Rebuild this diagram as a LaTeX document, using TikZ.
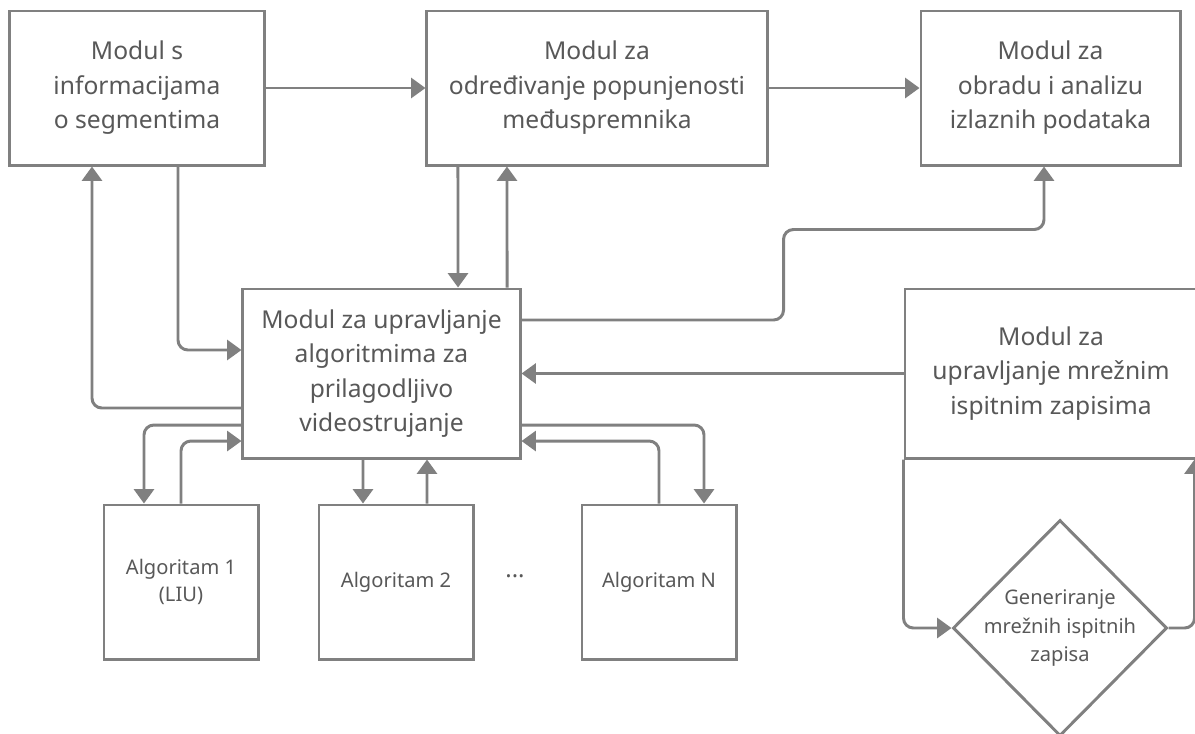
\documentclass[tikz,border=0pt]{standalone}
\usepackage{fontspec}
\setmainfont{Noto Sans}
\definecolor{linegray}{RGB}{128,128,128}
\definecolor{textgray}{RGB}{88,88,88}
\usetikzlibrary{arrows.meta,positioning,shapes.geometric}

\begin{document}
\begin{tikzpicture}[x=0.025cm,y=-0.025cm,
      modbox/.style={rectangle,draw=linegray,line width=2.1pt,minimum width=6.35cm,minimum height=3.85cm,align=center,text=textgray,font=\fontsize{17.5}{24.5}\selectfont},
      algbox/.style={rectangle,draw=linegray,line width=2.1pt,minimum width=3.85cm,minimum height=3.85cm,align=center,text=textgray,font=\fontsize{14.3}{19.5}\selectfont},
      genbox/.style={diamond,draw=linegray,line width=2.1pt,minimum width=5.35cm,minimum height=5.4cm,inner sep=0pt},
      gentxt/.style={align=center,text=textgray,font=\fontsize{14.3}{20}\selectfont},
      conn/.style={draw=linegray,line width=2.1pt,->,rounded corners=7pt},
      >={Triangle[length=0.36cm,width=0.5cm]}
    ]
    \clip (0,0) rectangle (1195,733);
    \fill[white] (0,0) rectangle (1195,733);

    \node[modbox] (seg) at (137,88) {Modul s\\informacijama\\o segmentima};
    \node[modbox,minimum width=8.5cm] (buf) at (597,88) {Modul za\\određivanje popunjenosti\\međuspremnika};
    \node[modbox,minimum width=6.475cm] (out) at (1050.5,88) {Modul za\\obradu i analizu\\izlaznih podataka};

    \node[modbox,minimum width=6.925cm,minimum height=4.225cm] (ctrl) at (381.5,373.5) {Modul za upravljanje\\algoritmima za\\prilagodljivo\\videostrujanje};
    \node[modbox,minimum width=7.3cm,minimum height=4.225cm] (net) at (1051,373.5) {Modul za\\upravljanje mrežnim\\ispitnim zapisima};

    \node[algbox] (alg1) at (181,582) {Algoritam 1\\(LIU)};
    \node[algbox] (alg2) at (396,582) {Algoritam 2};
    \node[algbox] (alg3) at (659,582) {Algoritam N};
    \node[text=textgray,font=\fontsize{17}{20}\selectfont\bfseries] (dots) at (515,576) {...};

    \node[genbox,label={[gentxt]center:{Generiranje\\mrežnih ispitnih\\zapisa}}] (gen) at (1060,628) {};

    \draw[conn] (seg.east) -- (buf.west);
    \draw[conn] (buf.east) -- (out.west);
    \draw[conn] ([xshift=1.025cm]seg.south) |- ([yshift=0.5875cm]ctrl.west);
    \draw[conn] ([yshift=-0.8625cm]ctrl.west) -| ([xshift=-1.125cm]seg.south);
    \draw[conn] ([xshift=-3.475cm]buf.south) -- ([xshift=1.9125cm]ctrl.north);
    \draw[conn] ([xshift=3.1375cm]ctrl.north) -- ([xshift=-2.25cm]buf.south);
    \draw[conn] ([yshift=1.3375cm]ctrl.east) -- ++(262,0) |- ([xshift=-0.1625cm,yshift=-1.575cm]out.south) -- ([xshift=-0.1625cm]out.south);
    \draw[conn] (net.west) -- (ctrl.east);

    \draw[conn] ([yshift=-1.2875cm]ctrl.west) -| ([xshift=-0.925cm]alg1.north);
    \draw[conn] (alg1.north) |- ([yshift=-1.6875cm]ctrl.west);
    \draw[conn] ([xshift=-0.4625cm]ctrl.south) -- ([xshift=-0.825cm]alg2.north);
    \draw[conn] ([xshift=0.775cm]alg2.north) -- ([xshift=1.1375cm]ctrl.south);
    \draw[conn] ([yshift=-1.2875cm]ctrl.east) -| ([xshift=1.125cm]alg3.north);
    \draw[conn] (alg3.north) |- ([yshift=-1.6875cm]ctrl.east);

    \draw[conn] (net.south west) |- (gen.west);
    \draw[conn] (gen.east) -| ([xshift=-0.1cm]net.south east);
  \end{tikzpicture}
\end{document}
